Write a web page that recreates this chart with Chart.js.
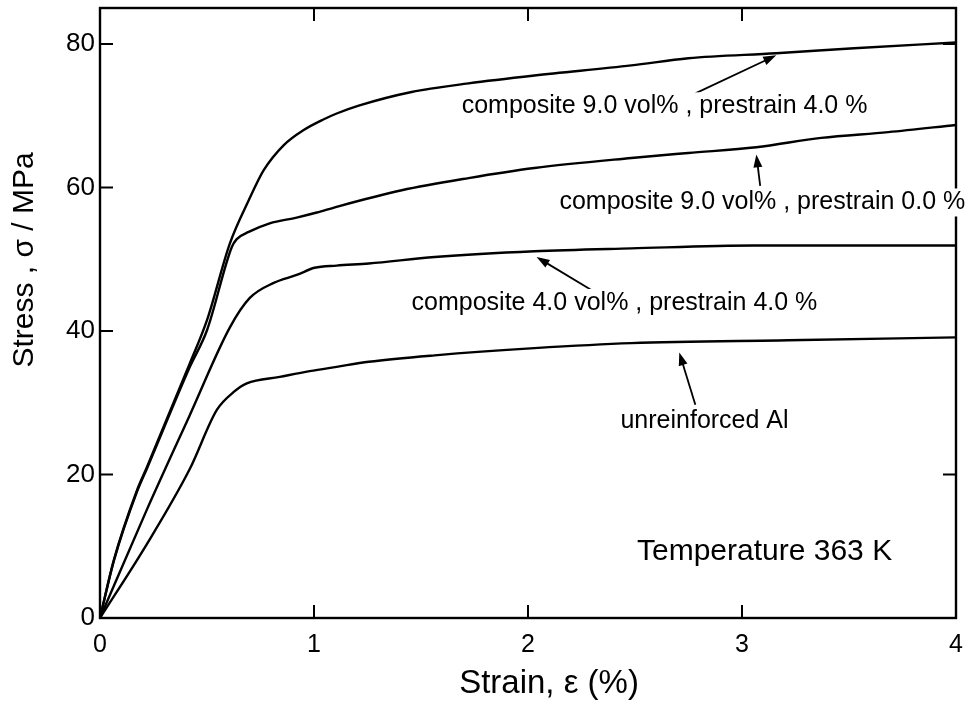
<!DOCTYPE html>
<html>
<head>
<meta charset="utf-8">
<title>Stress-strain curves at 363 K</title>
<script src="https://cdn.jsdelivr.net/npm/chart.js@4.4.1/dist/chart.umd.min.js"></script>
<style>
  html, body { margin: 0; padding: 0; background: #fff; }
  #wrap { width: 969px; height: 702px; position: relative; }
</style>
</head>
<body>
<div id="wrap"><canvas id="stressChart"></canvas></div>
<script>
// Axis ticks
const strainTicks = [0, 1, 2, 3, 4];
const stressTicks = [0, 20, 40, 60, 80];
const stressMax = 85;

// composite 9.0 vol%, prestrain 4.0 %
const comp9Pre4Strain = [0, 0.065, 0.173, 0.219, 0.42, 0.50, 0.607, 0.695, 0.765, 0.859, 0.952, 1.046, 1.106, 1.209, 1.456, 1.722, 2.03, 2.483, 2.749, 3.16, 3.524, 4.0];
const comp9Pre4Stress = [0, 8.1, 17.8, 21.0, 35.5, 41.5, 52.2, 58.2, 62.4, 65.9, 68.0, 69.5, 70.3, 71.4, 73.3, 74.5, 75.6, 77.0, 78.0, 78.7, 79.4, 80.2];

// composite 9.0 vol%, prestrain 0.0 %
const comp9Pre0Strain = [0, 0.065, 0.173, 0.219, 0.42, 0.50, 0.616, 0.639, 0.695, 0.793, 0.919, 1.013, 1.106, 1.41, 1.722, 2.03, 2.483, 2.749, 3.067, 3.37, 3.683, 4.0];
const comp9Pre0Stress = [0, 8.0, 17.6, 20.8, 35.0, 40.1, 51.7, 52.8, 53.8, 55.0, 55.8, 56.5, 57.3, 59.6, 61.3, 62.7, 64.1, 64.8, 65.6, 66.9, 67.7, 68.7];

// composite 4.0 vol%, prestrain 4.0 %
const comp4Pre4Strain = [0, 0.219, 0.42, 0.607, 0.70, 0.812, 0.919, 1.003, 1.106, 1.256, 1.564, 2.03, 2.483, 3.057, 4.0];
const comp4Pre4Stress = [0, 15.1, 28.3, 40.5, 44.6, 46.7, 47.8, 48.8, 49.1, 49.4, 50.3, 51.1, 51.5, 51.9, 51.9];

// unreinforced Al
const alStrain = [0, 0.219, 0.42, 0.546, 0.625, 0.686, 0.84, 0.98, 1.106, 1.256, 1.564, 2.03, 2.483, 3.216, 4.0];
const alStress = [0, 10.3, 20.8, 29.0, 31.5, 32.7, 33.6, 34.4, 35.0, 35.7, 36.6, 37.6, 38.3, 38.7, 39.1];

// Curve labels: text, left edge (strain), vertical centre (stress)
const noteTexts = [
  'composite 9.0 vol% , prestrain 4.0 %',
  'composite 9.0 vol% , prestrain 0.0 %',
  'composite 4.0 vol% , prestrain 4.0 %',
  'unreinforced Al',
];
const noteStrain = [1.69, 2.147, 1.456, 2.432];
const noteStress = [71.3, 57.9, 43.9, 27.4];

// Arrows from label to curve: tail -> head in data units
const arrowTail = [[2.782, 73.1], [3.085, 60.2], [2.296, 45.7], [2.782, 29.7]];
const arrowHead = [[3.16, 78.4], [3.067, 64.6], [2.04, 50.3], [2.707, 37.0]];

// Inward tick marks drawn on each side of the frame
const leftTickMarks = [20, 40, 60, 80];
const rightTickMarks = [20, 80];
const bottomTickMarks = [1, 2, 3];
const topTickMarks = [1, 2, 3];

const FONT = "'Liberation Sans', Arial, Helvetica, sans-serif";

function toPoints(xs, ys) {
  return xs.map((x, i) => ({ x, y: ys[i] }));
}

function curve(label, xs, ys) {
  return {
    label,
    data: toPoints(xs, ys),
    showLine: true,
    borderColor: '#000',
    borderWidth: 2.4,
    pointRadius: 0,
    cubicInterpolationMode: 'monotone',
    fill: false,
  };
}

function drawArrow(ctx, x0, y0, x1, y1) {
  const ang = Math.atan2(y1 - y0, x1 - x0);
  const len = 13, half = 4.5;
  ctx.beginPath();
  ctx.moveTo(x0, y0);
  ctx.lineTo(x1 - Math.cos(ang) * len * 0.8, y1 - Math.sin(ang) * len * 0.8);
  ctx.stroke();
  ctx.beginPath();
  ctx.moveTo(x1, y1);
  ctx.lineTo(x1 - Math.cos(ang) * len - Math.sin(ang) * half, y1 - Math.sin(ang) * len + Math.cos(ang) * half);
  ctx.lineTo(x1 - Math.cos(ang) * len + Math.sin(ang) * half, y1 - Math.sin(ang) * len - Math.cos(ang) * half);
  ctx.closePath();
  ctx.fill();
}

// Frame, inward ticks, arrows, labels and axis titles
const framePlugin = {
  id: 'framePlugin',
  afterDatasetsDraw(chart) {
    const { ctx, chartArea: a, scales: { x, y } } = chart;
    ctx.save();
    ctx.strokeStyle = '#000';
    ctx.fillStyle = '#000';
    ctx.lineWidth = 2.4;
    ctx.lineCap = 'square';
    ctx.strokeRect(a.left, a.top, a.right - a.left, a.bottom - a.top);

    const tl = 12;
    ctx.lineWidth = 2;
    ctx.beginPath();
    leftTickMarks.forEach(v => { const py = y.getPixelForValue(v); ctx.moveTo(a.left, py); ctx.lineTo(a.left + tl, py); });
    rightTickMarks.forEach(v => { const py = y.getPixelForValue(v); ctx.moveTo(a.right, py); ctx.lineTo(a.right - tl, py); });
    bottomTickMarks.forEach(v => { const px = x.getPixelForValue(v); ctx.moveTo(px, a.bottom); ctx.lineTo(px, a.bottom - tl); });
    topTickMarks.forEach(v => { const px = x.getPixelForValue(v); ctx.moveTo(px, a.top); ctx.lineTo(px, a.top + tl); });
    ctx.stroke();

    // arrows pointing at the curves
    ctx.lineWidth = 1.8;
    ctx.lineCap = 'butt';
    arrowTail.forEach((t, i) => {
      const h = arrowHead[i];
      drawArrow(ctx, x.getPixelForValue(t[0]), y.getPixelForValue(t[1]),
        x.getPixelForValue(h[0]), y.getPixelForValue(h[1]));
    });

    // curve labels on a white backing so they break the frame line
    ctx.font = `25px ${FONT}`;
    ctx.textAlign = 'left';
    ctx.textBaseline = 'middle';
    noteTexts.forEach((t, i) => {
      const px = x.getPixelForValue(noteStrain[i]);
      const py = y.getPixelForValue(noteStress[i]);
      const w = ctx.measureText(t).width;
      ctx.fillStyle = '#fff';
      ctx.fillRect(px - 2, py - 14, w + 4, 28);
      ctx.fillStyle = '#000';
      ctx.fillText(t, px, py);
    });

    ctx.font = `30px ${FONT}`;
    ctx.fillText('Temperature 363 K', 637, 552);

    // axis titles
    ctx.textAlign = 'center';
    ctx.font = `33px ${FONT}`;
    ctx.fillText('Strain, \u03b5 (%)', 549, 684);
    ctx.translate(25, 260);
    ctx.rotate(-Math.PI / 2);
    ctx.font = `30px ${FONT}`;
    ctx.fillText('Stress , \u03c3 / MPa', 0, 0);
    ctx.restore();
  },
};

function initStressChart(canvasId) {
  const el = document.getElementById(canvasId);
  if (!el) return;
  return new Chart(el, {
    type: 'scatter',
    data: {
      datasets: [
        curve('composite 9.0 vol%, prestrain 4.0 %', comp9Pre4Strain, comp9Pre4Stress),
        curve('composite 9.0 vol%, prestrain 0.0 %', comp9Pre0Strain, comp9Pre0Stress),
        curve('composite 4.0 vol%, prestrain 4.0 %', comp4Pre4Strain, comp4Pre4Stress),
        curve('unreinforced Al', alStrain, alStress),
      ],
    },
    options: {
      responsive: true,
      maintainAspectRatio: false,
      animation: false,
      events: [],
      layout: { padding: { top: 8, right: 13, left: 0, bottom: 0 } },
      plugins: { legend: { display: false }, tooltip: { enabled: false } },
      scales: {
        x: {
          type: 'linear',
          min: 0,
          max: 4,
          grid: { display: false, drawTicks: false },
          border: { display: false },
          afterBuildTicks: (s) => { s.ticks = strainTicks.map(v => ({ value: v })); },
          afterFit: (s) => {
            s.height = 84;
            s.paddingLeft = 0;
            s.paddingRight = 0;
          },
          ticks: { color: '#000', padding: 12, maxRotation: 0, font: { family: FONT, size: 25 } },
        },
        y: {
          type: 'linear',
          min: 0,
          max: stressMax,
          grid: { display: false, drawTicks: false },
          border: { display: false },
          afterBuildTicks: (s) => { s.ticks = stressTicks.map(v => ({ value: v })); },
          afterFit: (s) => {
            s.width = 100;
            s.paddingTop = 0;
            s.paddingBottom = 0;
          },
          ticks: { color: '#000', padding: 5, font: { family: FONT, size: 26 } },
        },
      },
    },
    plugins: [framePlugin],
  });
}

document.addEventListener('DOMContentLoaded', () => {
  if (typeof Chart === 'undefined') return;
  initStressChart('stressChart');
});
</script>
</body>
</html>
